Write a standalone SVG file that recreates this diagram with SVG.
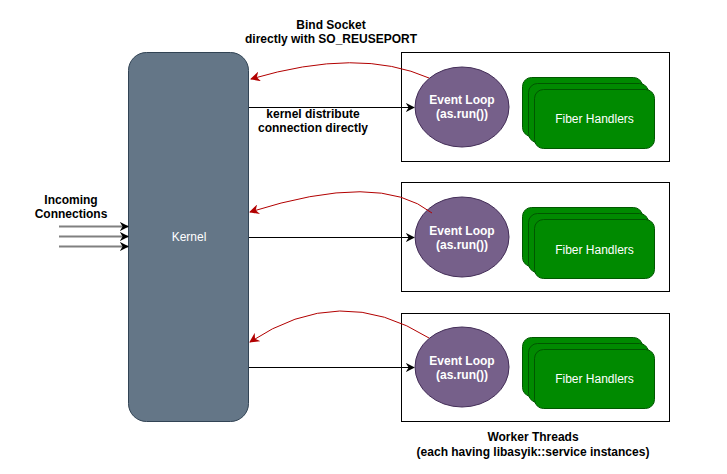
<svg xmlns="http://www.w3.org/2000/svg" width="727" height="474" viewBox="0 0 727 474">
<defs>
<marker id="blk" viewBox="0 0 10 10" refX="9" refY="5" markerWidth="9" markerHeight="9" markerUnits="userSpaceOnUse" orient="auto">
<path d="M0,0 L10,5 L0,10 L3,5 Z" fill="#000"/>
</marker>
<marker id="red" viewBox="0 0 10 10" refX="9" refY="5" markerWidth="10" markerHeight="10" markerUnits="userSpaceOnUse" orient="auto">
<path d="M0,0 L10,5 L0,10 L3,5 Z" fill="#b20000"/>
</marker>
<style>
text{font-family:"Liberation Sans",Arial,sans-serif;font-size:12px;text-anchor:middle}
.b{font-weight:bold;fill:#000}
.w{fill:#fff}
.box{fill:#fff;stroke:#000;stroke-width:1}
.ell{fill:#76608a;stroke:#432d57}
.fib{fill:#008a00;stroke:#005700}
.blk{stroke:#000;fill:none;marker-end:url(#blk)}
.gry{stroke:#808080;stroke-width:2;fill:none;marker-end:url(#blk)}
.red{stroke:#b20000;fill:none;marker-end:url(#red)}
</style>
</defs>
<rect width="727" height="474" fill="#fff"/>
<g id="kernel">
<rect x="128.5" y="52.5" width="120" height="369" rx="18" fill="#647687" stroke="#314354"/>
<text class="w" x="189" y="241">Kernel</text>
</g>
<g id="worker1">
<rect class="box" x="401.5" y="52.5" width="268" height="109"/>
<ellipse class="ell" cx="462" cy="107" rx="47" ry="40"/>
<text class="b w" x="462" y="104" style="fill:#fff">Event Loop</text>
<text class="b w" x="462" y="118" style="fill:#fff">(as.run())</text>
<rect class="fib" x="522.5" y="77.5" width="120" height="59" rx="9"/>
<rect class="fib" x="528.5" y="83.5" width="120" height="59" rx="9"/>
<rect class="fib" x="534.5" y="89.5" width="120" height="59" rx="9"/>
<text class="w" x="594.5" y="123">Fiber Handlers</text>
</g>
<g id="worker2">
<rect class="box" x="401.5" y="182.5" width="268" height="109"/>
<ellipse class="ell" cx="462" cy="237" rx="47" ry="40"/>
<text class="b" x="462" y="235" style="fill:#fff">Event Loop</text>
<text class="b" x="462" y="249" style="fill:#fff">(as.run())</text>
<rect class="fib" x="522.5" y="207.5" width="120" height="59" rx="9"/>
<rect class="fib" x="528.5" y="213.5" width="120" height="59" rx="9"/>
<rect class="fib" x="534.5" y="219.5" width="120" height="59" rx="9"/>
<text class="w" x="594.5" y="254">Fiber Handlers</text>
</g>
<g id="worker3">
<rect class="box" x="401.5" y="313.5" width="268" height="108"/>
<ellipse class="ell" cx="462" cy="367" rx="47" ry="40"/>
<text class="b" x="462" y="365" style="fill:#fff">Event Loop</text>
<text class="b" x="462" y="379" style="fill:#fff">(as.run())</text>
<rect class="fib" x="522.5" y="337.5" width="120" height="59" rx="9"/>
<rect class="fib" x="528.5" y="343.5" width="120" height="59" rx="9"/>
<rect class="fib" x="534.5" y="349.5" width="120" height="59" rx="9"/>
<text class="w" x="594.5" y="383">Fiber Handlers</text>
</g>
<g id="connectors">
<path class="gry" d="M59,226.5 H128"/>
<path class="gry" d="M59,236.5 H128"/>
<path class="gry" d="M59,246.5 H128"/>
<path class="blk" d="M249,107.5 H414"/>
<path class="blk" d="M249,237.5 H414"/>
<path class="blk" d="M249,367.5 H414"/>
<path class="red" d="M429,78 Q359,47 251,79"/>
<path class="red" d="M432,213 Q379,171 250,212"/>
<path class="red" d="M429,338 Q340,282 250,342"/>
</g>
<g id="labels">
<text class="b" x="331" y="29">Bind Socket</text>
<text class="b" x="331" y="43">directly with SO_REUSEPORT</text>
<text class="b" x="313" y="118">kernel distribute</text>
<text class="b" x="313" y="132">connection directly</text>
<text class="b" x="71" y="204">Incoming</text>
<text class="b" x="71" y="218">Connections</text>
<text class="b" x="533" y="441">Worker Threads</text>
<text class="b" x="533" y="456">(each having libasyik::service instances)</text>
</g>
</svg>
